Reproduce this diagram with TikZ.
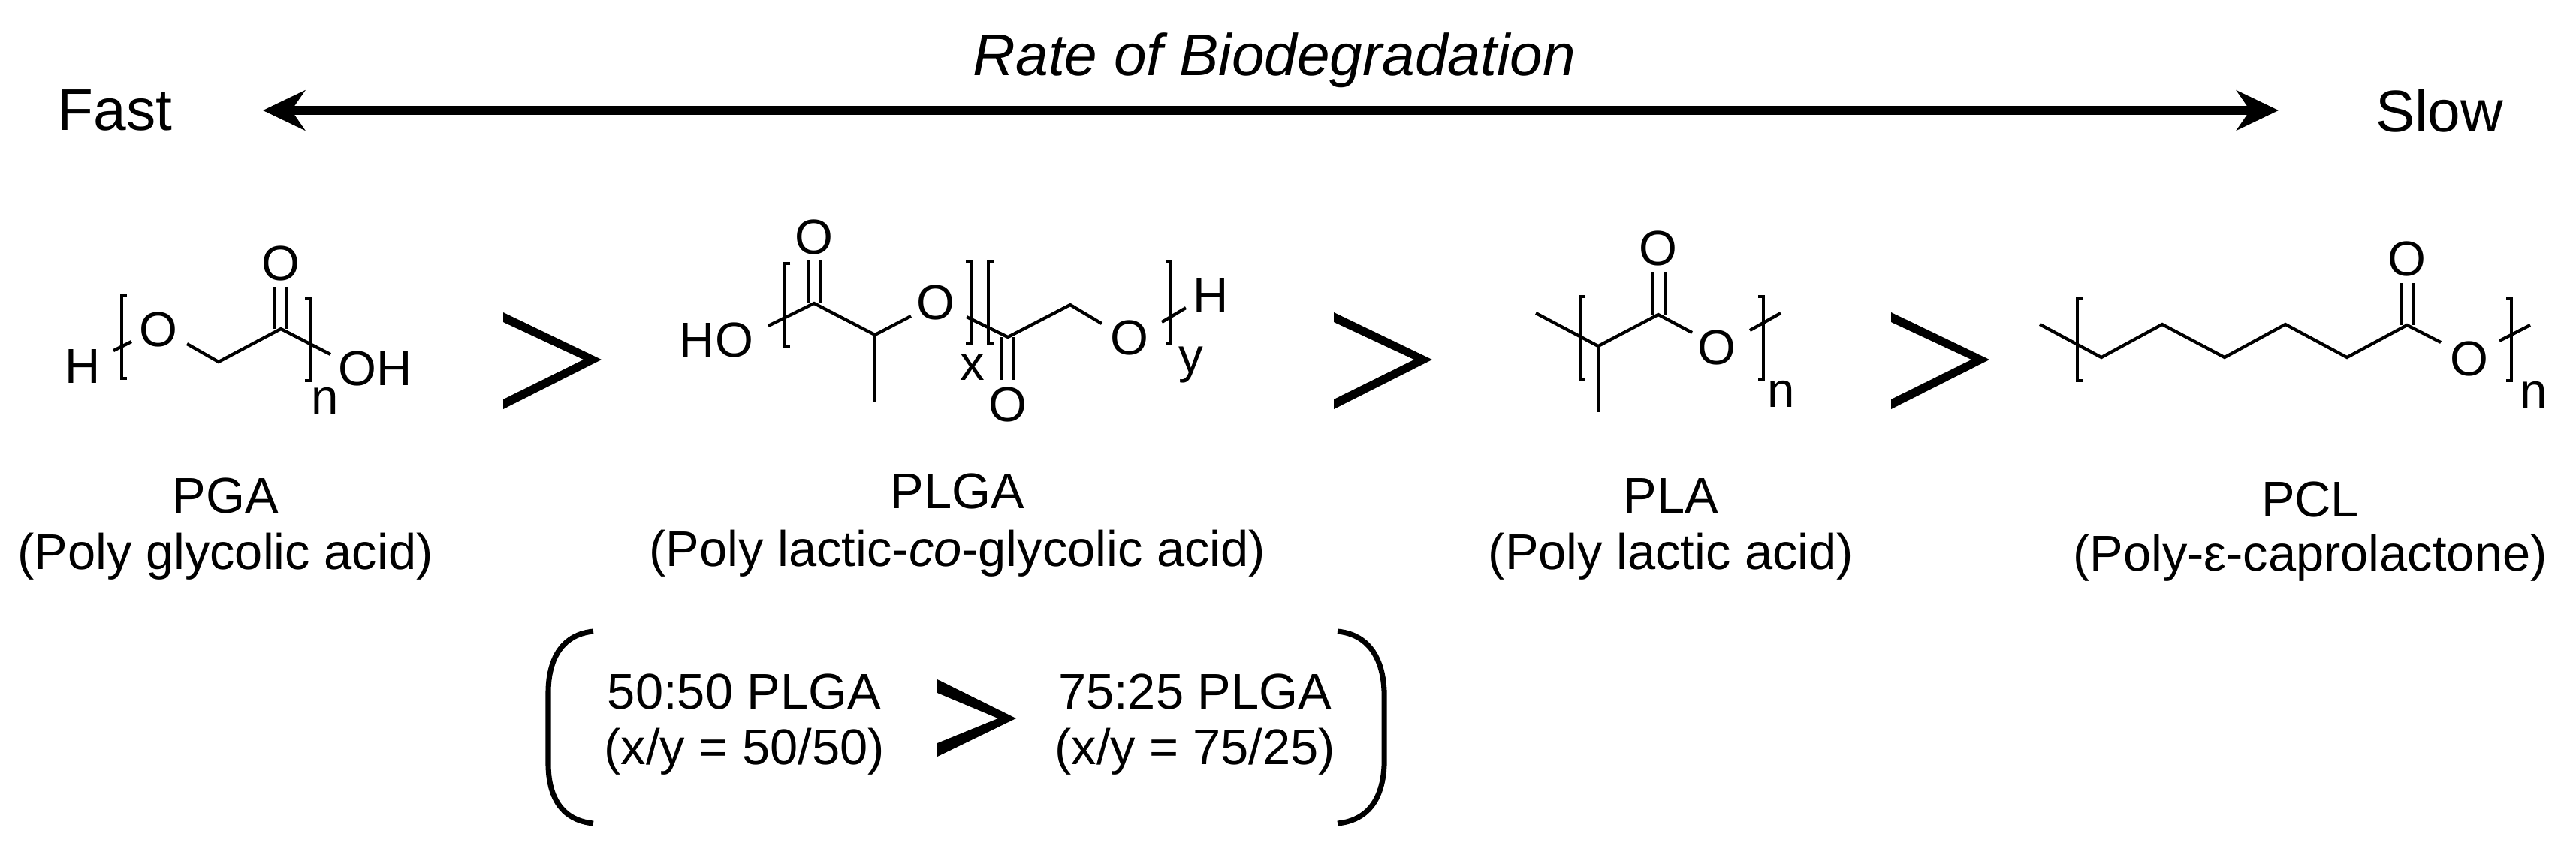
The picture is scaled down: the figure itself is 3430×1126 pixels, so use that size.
\documentclass[tikz,border=0pt]{standalone}
\usepackage{fontspec}
\setmainfont{Liberation Sans}
\usetikzlibrary{arrows.meta}
\tikzset{
	bond/.style={line width=1.2pt},
	atom/.style={inner sep=0pt,font=\fontsize{18.6pt}{20pt}\selectfont},
	label/.style={inner sep=0pt,font=\fontsize{19pt}{22pt}\selectfont},
	big/.style={inner sep=0pt,font=\fontsize{22.3pt}{26pt}\selectfont},
	gtmark/.style={fill=black,draw=none},
	ratetip/.tip={Stealth[length=0.56cm,width=0.53cm,inset=0.18cm]},
}
\newcommand{\gtsign}[2]{\fill [gtmark,shift={(#1,#2)}] (0,0) -- (131,63) -- (0,129) -- (0,116) -- (107,63) -- (0,13) -- cycle;}
\begin{document}
\begin{tikzpicture}[x=0.01cm,y=-0.01cm]
	\useasboundingbox (0,0) rectangle (3430,1126);

	% header
	\node [big] (fast) at (153,147) {Fast};
	\node [big] (slow) at (3248,147) {Slow};
	\node [big] (rate) at (1697,80) {\itshape Rate of Biodegradation};
	\coordinate (ratefast) at (350,147);
	\coordinate (rateslow) at (3034,147);
	\draw [ratetip-ratetip,line width=3.3pt] (ratefast) -- (rateslow);

	% PGA
	\node [atom] (pgah) at (110,488) {H};
	\node [atom] (pgao) at (211,439) {O};
	\node [atom] (pgaoo) at (374,351) {O};
	\node [atom] (pgaoh) at (500,491) {OH};
	\node [atom] (pgan) at (433,534) {n};
	\draw [bond] (151,467) -- (175,455);
	\draw [bond] (249,458) -- (291,482) -- (374,438) -- (440,472);
	\draw [bond] (365,382) -- (365,438);
	\draw [bond] (381,382) -- (381,438);
	\draw [bond] (169,394) -- (162,394) -- (162,504) -- (169,504);
	\draw [bond] (406,397) -- (413,397) -- (413,507) -- (406,507);
	\gtsign{670}{416}

	% PLGA
	\node [atom] (plgaho) at (954,453) {HO};
	\node [atom] (plgaoa) at (1084,316) {O};
	\node [atom] (plgaob) at (1246,403) {O};
	\node [atom] (plgaoc) at (1342,539) {O};
	\node [atom] (plgaod) at (1504,450) {O};
	\node [atom] (plgah) at (1612,394) {H};
	\node [atom] (plgax) at (1295,489) {x};
	\node [atom] (plgay) at (1586,486) {y};
	\draw [bond] (1023,434) -- (1084,404) -- (1165,446) -- (1213,421);
	\draw [bond] (1165,446) -- (1165,535);
	\draw [bond] (1077,347) -- (1077,404);
	\draw [bond] (1092,347) -- (1092,404);
	\draw [bond] (1287,422) -- (1342,449) -- (1425,406) -- (1467,431);
	\draw [bond] (1334,449) -- (1334,506);
	\draw [bond] (1349,449) -- (1349,506);
	\draw [bond] (1547,429) -- (1579,410);
	\draw [bond] (1052,351) -- (1045,351) -- (1045,462) -- (1052,462);
	\draw [bond] (1286,348) -- (1293,348) -- (1293,458) -- (1286,458);
	\draw [bond] (1323,348) -- (1316,348) -- (1316,458) -- (1323,458);
	\draw [bond] (1552,348) -- (1559,348) -- (1559,457) -- (1552,457);
	\gtsign{1776}{416}

	% PLA
	\node [atom] (plaoa) at (2208,331) {O};
	\node [atom] (plaob) at (2286,463) {O};
	\node [atom] (plan) at (2372,525) {n};
	\draw [bond] (2045,417) -- (2128,461) -- (2208,419) -- (2253,443);
	\draw [bond] (2128,461) -- (2128,549);
	\draw [bond] (2200,362) -- (2200,419);
	\draw [bond] (2217,362) -- (2217,419);
	\draw [bond] (2330,440) -- (2371,417);
	\draw [bond] (2111,395) -- (2104,395) -- (2104,505) -- (2111,505);
	\draw [bond] (2341,395) -- (2348,395) -- (2348,505) -- (2341,505);
	\gtsign{2518}{416}

	% PCL
	\node [atom] (pcloa) at (3205,345) {O};
	\node [atom] (pclob) at (3288,478) {O};
	\node [atom] (pcln) at (3374,526) {n};
	\draw [bond] (2716,432) -- (2798,476) -- (2879,432) -- (2962,476) -- (3043,432) -- (3125,476) -- (3205,433) -- (3250,456);
	\draw [bond] (3197,377) -- (3197,433);
	\draw [bond] (3213,377) -- (3213,433);
	\draw [bond] (3328,454) -- (3369,433);
	\draw [bond] (2773,397) -- (2766,397) -- (2766,507) -- (2773,507);
	\draw [bond] (3337,397) -- (3344,397) -- (3344,507) -- (3337,507);

	% names
	\node [label] (pga) at (300,660) {PGA};
	\node [label] (pgafull) at (300,741) {(Poly glycolic acid)};
	\node [label] (plga) at (1275,654) {PLGA};
	\node [label] (plgafull) at (1275,737) {(Poly lactic-\textit{co}-glycolic acid)};
	\node [label] (pla) at (2225,660) {PLA};
	\node [label] (plafull) at (2225,741) {(Poly lactic acid)};
	\node [label] (pcl) at (3076,665) {PCL};
	\node [label] (pclfull) at (3076,743) {(Poly-ε-caprolactone)};

	% ratios
	\node [label] (ratioa) at (991,921) {50:50 PLGA};
	\node [label] (ratioafull) at (991,1001) {(x/y = 50/50)};
	\node [label] (ratiob) at (1591,921) {75:25 PLGA};
	\node [label] (ratiobfull) at (1591,1001) {(x/y = 75/25)};
	\fill [gtmark] (1248,905) -- (1353,957) -- (1248,1008) -- (1248,990) -- (1329,957) -- (1248,923) -- cycle;
	\draw [line width=2pt] (790,841) .. controls (750,845) and (731,875) .. (730,920) -- (730,1020) .. controls (731,1065) and (750,1093) .. (790,1097);
	\draw [line width=2pt] (1781,841) .. controls (1821,845) and (1841,875) .. (1843,920) -- (1843,1020) .. controls (1841,1065) and (1821,1093) .. (1781,1097);
\end{tikzpicture}
\end{document}
